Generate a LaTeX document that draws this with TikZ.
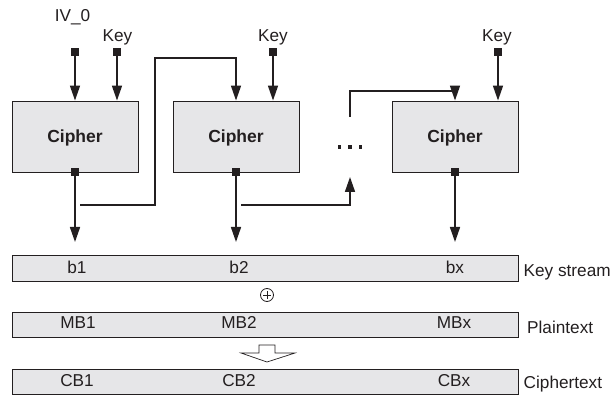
\documentclass[tikz,border=0pt]{standalone}
\usepackage{fontspec}
\setmainfont{Liberation Sans}
\usetikzlibrary{arrows.meta}
\definecolor{ink}{HTML}{231F20}
\definecolor{boxgray}{HTML}{E6E6E8}
\begin{document}
\begin{tikzpicture}[x=1pt,y=-1pt,
  cipherbox/.style={draw=ink, fill=boxgray, line width=0.9pt, minimum width=126pt,
    minimum height=71pt, inner sep=0pt, text depth=0pt, text=ink,
    font=\fontsize{17.5}{20}\selectfont\bfseries},
  bar/.style={draw=ink, fill=boxgray, line width=0.9pt, minimum width=506pt,
    inner sep=0pt},
  port/.style={fill=ink, minimum size=8.5pt, inner sep=0pt},
  dot/.style={fill=ink, minimum size=3.5pt, inner sep=0pt},
  lbl/.style={inner sep=0pt, text=ink, font=\fontsize{17.2}{20}\selectfont},
  flow/.style={draw=ink, line width=1.6pt, -{Triangle[length=15pt,width=10pt]}}
]
\useasboundingbox (0,0) rectangle (615,395);

% cipher blocks
\node[cipherbox] (c1) at (75,136.5)  {Cipher};
\node[cipherbox] (c2) at (236,136.5) {Cipher};
\node[cipherbox] (c3) at (455,136.5) {Cipher};

% inputs
\node[port] (iv) at (75,52) {};
\node[port] (k1) at (117,52) {};
\node[port] (k2) at (273,52) {};
\node[port] (k3) at (498,52) {};
\node[lbl, anchor=base] (ivl) at (72.5,22) {IV\_0};
\node[lbl, anchor=base] (k1l) at (117.5,41.5) {Key};
\node[lbl, anchor=base] (k2l) at (273,41.5) {Key};
\node[lbl, anchor=base] (k3l) at (497,41.5) {Key};

\draw[flow] (iv) -- (c1.north -| iv);
\draw[flow] (k1) -- (c1.north -| k1);
\draw[flow] (k2) -- (c2.north -| k2);
\draw[flow] (k3) -- (c3.north -| k3);

% outputs
\node[port] (o1) at (75,172) {};
\node[port] (o2) at (236,172) {};
\node[port] (o3) at (455,172) {};

% stream bars
\node[bar, minimum height=26pt] (ks) at (265,268)   {};
\node[bar, minimum height=25pt] (pt) at (265,324.5) {};
\node[bar, minimum height=25pt] (ct) at (265,381.5) {};

\coordinate (t1) at (75,242);
\coordinate (t2) at (236,242);
\coordinate (t3) at (455,242);
\draw[flow] (o1) -- (t1);
\draw[flow] (o2) -- (t2);
\draw[flow] (o3) -- (t3);

% chaining between blocks
\coordinate (f1) at (80,205);
\draw[flow] (f1) -- (155,205) -- (155,58) -| (c2.north);
\coordinate (f2) at (241,205);
\coordinate (f2e) at (350,177);
\draw[flow] (f2) -- (350,205) -- (f2e);
\coordinate (f3) at (350,117);
\draw[flow] (f3) -- (350,91) -| (c3.north);

% ellipsis
\node[dot] (d1) at (339.5,147) {};
\node[dot] (d2) at (350,147) {};
\node[dot] (d3) at (360.5,147) {};

% bar contents
\node[lbl, anchor=base] (b1) at (77,273.5) {b1};
\node[lbl, anchor=base] (b2) at (239,273.5) {b2};
\node[lbl, anchor=base] (bx) at (455,273.5) {bx};
\node[lbl, anchor=base] (m1) at (78,328.5) {MB1};
\node[lbl, anchor=base] (m2) at (239,328.5) {MB2};
\node[lbl, anchor=base] (mx) at (454,328.5) {MBx};
\node[lbl, anchor=base] (q1) at (77,386.5) {CB1};
\node[lbl, anchor=base] (q2) at (239,386.5) {CB2};
\node[lbl, anchor=base] (qx) at (454,386.5) {CBx};

\node[lbl, anchor=base west] (ksl) at (523.5,276.5) {Key stream};
\node[lbl, anchor=base west] (ptl) at (527,333) {Plaintext};
\node[lbl, anchor=base west] (ctl) at (523.5,388) {Ciphertext};

% xor sign
\node[circle, draw=ink, line width=0.8pt, minimum size=13pt, inner sep=0pt] (xor) at (267,295) {};
\draw[ink, line width=0.9pt] ([xshift=-4pt]xor.center) -- ([xshift=4pt]xor.center);
\draw[ink, line width=0.9pt] ([yshift=-4pt]xor.center) -- ([yshift=4pt]xor.center);

% hollow arrow towards the ciphertext
\draw[ink, line width=0.7pt, fill=white, line join=miter]
  (259,345) -- (275,345) -- (275,353) -- (295,353) -- (267,362) -- (241,353) -- (259,353) -- cycle;
\end{tikzpicture}
\end{document}
